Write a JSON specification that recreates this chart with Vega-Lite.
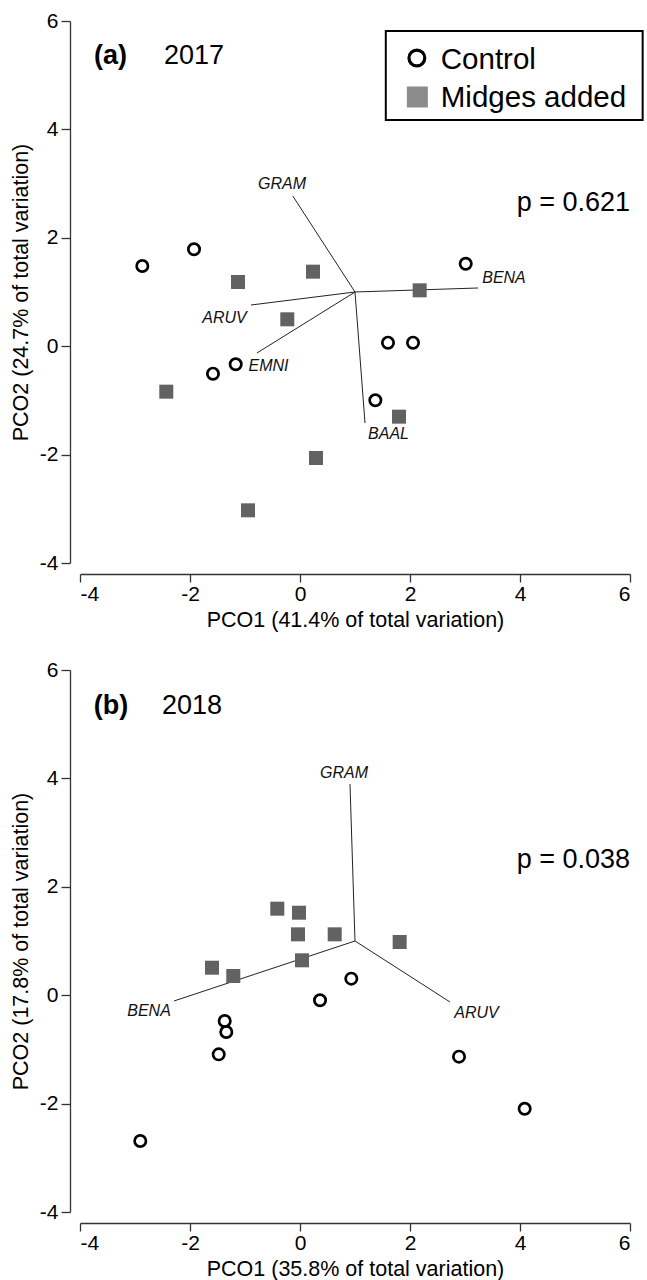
{
  "$schema": "https://vega.github.io/schema/vega-lite/v6.json",
  "background": "white",
  "padding": {"left": 10, "top": 10, "right": 0, "bottom": 0},
  "config": {
    "view": {"stroke": null},
    "font": "Liberation Sans",
    "axis": {"grid": false, "domainColor": "#333", "tickColor": "#333", "domainWidth": 1.3, "tickWidth": 1.3, "labelColor": "black", "titleColor": "black", "labelFont": "Liberation Sans", "titleFont": "Liberation Sans", "labelFontSize": 21, "titleFontSize": 21.5, "titleFontWeight": "normal"},
    "axisX": {"offset": 11, "tickSize": 8, "labelPadding": 1, "titlePadding": 5},
    "axisY": {"offset": 10, "tickSize": 9, "labelPadding": 3, "titlePadding": 7}
  },
  "datasets": {
    "scores": [
      {"panel": "a", "group": "Control", "pc1": -2.867, "pc2": 1.48},
      {"panel": "a", "group": "Control", "pc1": -1.927, "pc2": 1.788},
      {"panel": "a", "group": "Control", "pc1": 3.013, "pc2": 1.522},
      {"panel": "a", "group": "Control", "pc1": -1.582, "pc2": -0.507},
      {"panel": "a", "group": "Control", "pc1": -1.169, "pc2": -0.334},
      {"panel": "a", "group": "Control", "pc1": 1.6, "pc2": 0.065},
      {"panel": "a", "group": "Control", "pc1": 2.055, "pc2": 0.065},
      {"panel": "a", "group": "Control", "pc1": 1.37, "pc2": -0.998},
      {"panel": "a", "group": "Midges added", "pc1": -1.127, "pc2": 1.185},
      {"panel": "a", "group": "Midges added", "pc1": 0.236, "pc2": 1.375},
      {"panel": "a", "group": "Midges added", "pc1": -0.231, "pc2": 0.496},
      {"panel": "a", "group": "Midges added", "pc1": 2.176, "pc2": 1.031},
      {"panel": "a", "group": "Midges added", "pc1": -2.431, "pc2": -0.839},
      {"panel": "a", "group": "Midges added", "pc1": 1.8, "pc2": -1.3},
      {"panel": "a", "group": "Midges added", "pc1": 0.291, "pc2": -2.063},
      {"panel": "a", "group": "Midges added", "pc1": -0.945, "pc2": -3.028},
      {"panel": "b", "group": "Control", "pc1": -2.904, "pc2": -2.69},
      {"panel": "b", "group": "Control", "pc1": -1.369, "pc2": -0.476},
      {"panel": "b", "group": "Control", "pc1": -1.34, "pc2": -0.679},
      {"panel": "b", "group": "Control", "pc1": -1.478, "pc2": -1.091},
      {"panel": "b", "group": "Control", "pc1": 0.364, "pc2": -0.094},
      {"panel": "b", "group": "Control", "pc1": 0.933, "pc2": 0.305},
      {"panel": "b", "group": "Control", "pc1": 2.891, "pc2": -1.134},
      {"panel": "b", "group": "Control", "pc1": 4.085, "pc2": -2.094},
      {"panel": "b", "group": "Midges added", "pc1": -0.413, "pc2": 1.596},
      {"panel": "b", "group": "Midges added", "pc1": -0.018, "pc2": 1.522},
      {"panel": "b", "group": "Midges added", "pc1": -0.036, "pc2": 1.123},
      {"panel": "b", "group": "Midges added", "pc1": 0.036, "pc2": 0.644},
      {"panel": "b", "group": "Midges added", "pc1": 0.631, "pc2": 1.123},
      {"panel": "b", "group": "Midges added", "pc1": 1.812, "pc2": 0.982},
      {"panel": "b", "group": "Midges added", "pc1": -1.6, "pc2": 0.507},
      {"panel": "b", "group": "Midges added", "pc1": -1.213, "pc2": 0.354}
    ],
    "vectors": [
      {"panel": "a", "var": "GRAM", "x": -0.13, "y": 2.77, "lx": -0.327, "ly": 2.9},
      {"panel": "a", "var": "BENA", "x": 3.236, "y": 1.074, "lx": 3.709, "ly": 1.166},
      {"panel": "a", "var": "ARUV", "x": -0.891, "y": 0.76, "lx": -1.373, "ly": 0.428},
      {"panel": "a", "var": "EMNI", "x": -0.782, "y": -0.125, "lx": -0.573, "ly": -0.458},
      {"panel": "a", "var": "BAAL", "x": 1.182, "y": -1.417, "lx": 1.609, "ly": -1.712},
      {"panel": "b", "var": "GRAM", "x": 0.909, "y": 3.897, "lx": 0.8, "ly": 4.007},
      {"panel": "b", "var": "BENA", "x": -2.291, "y": -0.107, "lx": -2.745, "ly": -0.384},
      {"panel": "b", "var": "ARUV", "x": 2.727, "y": -0.125, "lx": 3.209, "ly": -0.421}
    ]
  },
  "bounds": "flush",
  "spacing": 107,
  "vconcat": [
    {
      "width": 550,
      "height": 542,
      "layer": [
        {
          "data": {"name": "vectors"},
          "transform": [{"filter": "datum.panel === 'a'"}],
          "mark": {"type": "rule", "color": "#222", "strokeWidth": 1},
          "encoding": {
            "x": {"field": "x", "type": "quantitative", "scale": {"domain": [-4, 6], "nice": false, "zero": false}, "title": "PCO1 (41.4% of total variation)", "axis": {"values": [-4, -2, 0, 2, 4, 6], "labelExpr": "datum.value < 0 ? '-' + (-datum.value) : '' + datum.value"}},
            "y": {"field": "y", "type": "quantitative", "scale": {"domain": [-4, 6], "nice": false, "zero": false}, "title": "PCO2 (24.7% of total variation)", "axis": {"values": [-4, -2, 0, 2, 4, 6], "labelExpr": "datum.value < 0 ? '-' + (-datum.value) : '' + datum.value"}},
            "x2": {"datum": 1},
            "y2": {"datum": 1}
          }
        },
        {
          "data": {"name": "vectors"},
          "transform": [{"filter": "datum.panel === 'a'"}],
          "mark": {"type": "text", "fontStyle": "italic", "fontSize": 16, "align": "center", "baseline": "alphabetic", "color": "#111"},
          "encoding": {
            "x": {"field": "lx", "type": "quantitative", "title": "PCO1 (41.4% of total variation)"},
            "y": {"field": "ly", "type": "quantitative", "title": "PCO2 (24.7% of total variation)"},
            "text": {"field": "var"}
          }
        },
        {
          "data": {"name": "scores"},
          "transform": [{"filter": "datum.panel === 'a' && datum.group === 'Control'"}],
          "mark": {"type": "point", "shape": "circle", "filled": false, "stroke": "black", "strokeWidth": 2.7, "size": 128, "opacity": 1},
          "encoding": {
            "x": {"field": "pc1", "type": "quantitative", "title": "PCO1 (41.4% of total variation)"},
            "y": {"field": "pc2", "type": "quantitative", "title": "PCO2 (24.7% of total variation)"}
          }
        },
        {
          "data": {"name": "scores"},
          "transform": [{"filter": "datum.panel === 'a' && datum.group === 'Midges added'"}],
          "mark": {"type": "point", "shape": "square", "filled": true, "fill": "#626262", "strokeWidth": 0, "size": 196, "opacity": 1},
          "encoding": {
            "x": {"field": "pc1", "type": "quantitative", "title": "PCO1 (41.4% of total variation)"},
            "y": {"field": "pc2", "type": "quantitative", "title": "PCO2 (24.7% of total variation)"}
          }
        },
        {
          "data": {"values": [{"t": "legend"}]},
          "mark": {"type": "rect", "fill": "white", "stroke": "black", "strokeWidth": 2},
          "encoding": {"x": {"datum": 1.56}, "x2": {"datum": 6.23}, "y": {"datum": 5.815}, "y2": {"datum": 4.173}}
        },
        {
          "data": {"values": [{"group": "Control"}]},
          "mark": {"type": "point", "shape": "circle", "filled": false, "stroke": "black", "strokeWidth": 3.2, "size": 250, "opacity": 1},
          "encoding": {"x": {"datum": 2.125}, "y": {"datum": 5.317}}
        },
        {
          "data": {"values": [{"group": "Midges added"}]},
          "mark": {"type": "point", "shape": "square", "filled": true, "fill": "#8c8c8c", "strokeWidth": 0, "size": 441, "opacity": 1},
          "encoding": {"x": {"datum": 2.134}, "y": {"datum": 4.598}}
        },
        {
          "data": {"values": [{"group": "Control"}]},
          "mark": {"type": "text", "fontSize": 29.5, "align": "left", "baseline": "alphabetic", "color": "black"},
          "encoding": {"x": {"datum": 2.56}, "y": {"datum": 5.114}, "text": {"field": "group"}}
        },
        {
          "data": {"values": [{"group": "Midges added"}]},
          "mark": {"type": "text", "fontSize": 29.5, "align": "left", "baseline": "alphabetic", "color": "black"},
          "encoding": {"x": {"datum": 2.56}, "y": {"datum": 4.413}, "text": {"field": "group"}}
        },
        {
          "data": {"values": [{"t": "(a)"}]},
          "mark": {"type": "text", "fontSize": 27, "fontWeight": "bold", "align": "left", "baseline": "alphabetic", "color": "black"},
          "encoding": {"x": {"datum": -3.745}, "y": {"datum": 5.207}, "text": {"field": "t"}}
        },
        {
          "data": {"values": [{"t": "2017"}]},
          "mark": {"type": "text", "fontSize": 27, "align": "left", "baseline": "alphabetic", "color": "black"},
          "encoding": {"x": {"datum": -2.473}, "y": {"datum": 5.207}, "text": {"field": "t"}}
        },
        {
          "data": {"values": [{"t": "p = 0.621"}]},
          "mark": {"type": "text", "fontSize": 27, "align": "right", "baseline": "alphabetic", "color": "black"},
          "encoding": {"x": {"datum": 6.0}, "y": {"datum": 2.494}, "text": {"field": "t"}}
        }
      ]
    },
    {
      "width": 550,
      "height": 542,
      "layer": [
        {
          "data": {"name": "vectors"},
          "transform": [{"filter": "datum.panel === 'b'"}],
          "mark": {"type": "rule", "color": "#222", "strokeWidth": 1},
          "encoding": {
            "x": {"field": "x", "type": "quantitative", "scale": {"domain": [-4, 6], "nice": false, "zero": false}, "title": "PCO1 (35.8% of total variation)", "axis": {"values": [-4, -2, 0, 2, 4, 6], "labelExpr": "datum.value < 0 ? '-' + (-datum.value) : '' + datum.value"}},
            "y": {"field": "y", "type": "quantitative", "scale": {"domain": [-4, 6], "nice": false, "zero": false}, "title": "PCO2 (17.8% of total variation)", "axis": {"values": [-4, -2, 0, 2, 4, 6], "labelExpr": "datum.value < 0 ? '-' + (-datum.value) : '' + datum.value"}},
            "x2": {"datum": 1},
            "y2": {"datum": 1}
          }
        },
        {
          "data": {"name": "vectors"},
          "transform": [{"filter": "datum.panel === 'b'"}],
          "mark": {"type": "text", "fontStyle": "italic", "fontSize": 16, "align": "center", "baseline": "alphabetic", "color": "#111"},
          "encoding": {
            "x": {"field": "lx", "type": "quantitative", "title": "PCO1 (35.8% of total variation)"},
            "y": {"field": "ly", "type": "quantitative", "title": "PCO2 (17.8% of total variation)"},
            "text": {"field": "var"}
          }
        },
        {
          "data": {"name": "scores"},
          "transform": [{"filter": "datum.panel === 'b' && datum.group === 'Control'"}],
          "mark": {"type": "point", "shape": "circle", "filled": false, "stroke": "black", "strokeWidth": 2.7, "size": 128, "opacity": 1},
          "encoding": {
            "x": {"field": "pc1", "type": "quantitative", "title": "PCO1 (35.8% of total variation)"},
            "y": {"field": "pc2", "type": "quantitative", "title": "PCO2 (17.8% of total variation)"}
          }
        },
        {
          "data": {"name": "scores"},
          "transform": [{"filter": "datum.panel === 'b' && datum.group === 'Midges added'"}],
          "mark": {"type": "point", "shape": "square", "filled": true, "fill": "#626262", "strokeWidth": 0, "size": 196, "opacity": 1},
          "encoding": {
            "x": {"field": "pc1", "type": "quantitative", "title": "PCO1 (35.8% of total variation)"},
            "y": {"field": "pc2", "type": "quantitative", "title": "PCO2 (17.8% of total variation)"}
          }
        },
        {
          "data": {"values": [{"t": "(b)"}]},
          "mark": {"type": "text", "fontSize": 27, "fontWeight": "bold", "align": "left", "baseline": "alphabetic", "color": "black"},
          "encoding": {"x": {"datum": -3.751}, "y": {"datum": 5.188}, "text": {"field": "t"}}
        },
        {
          "data": {"values": [{"t": "2018"}]},
          "mark": {"type": "text", "fontSize": 27, "align": "left", "baseline": "alphabetic", "color": "black"},
          "encoding": {"x": {"datum": -2.509}, "y": {"datum": 5.188}, "text": {"field": "t"}}
        },
        {
          "data": {"values": [{"t": "p = 0.038"}]},
          "mark": {"type": "text", "fontSize": 27, "align": "right", "baseline": "alphabetic", "color": "black"},
          "encoding": {"x": {"datum": 6.0}, "y": {"datum": 2.347}, "text": {"field": "t"}}
        }
      ]
    }
  ]
}
